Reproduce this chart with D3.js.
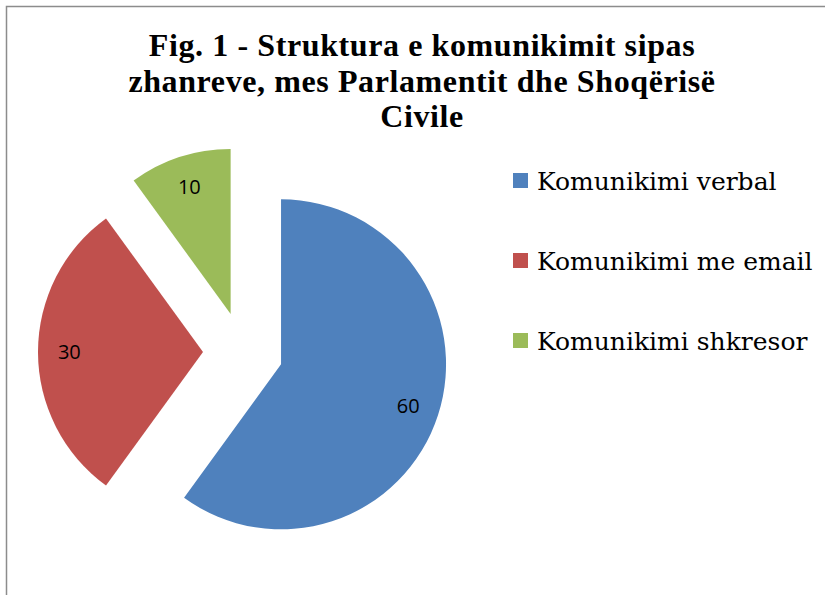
<!DOCTYPE html>
<html>
<head>
<meta charset="utf-8">
<script src="https://cdn.jsdelivr.net/npm/d3@7"></script>
<style>
  body { margin: 0; background: #fff; }
</style>
</head>
<body>
<div id="chart"></div>
<script>
const categories = ["Komunikimi verbal", "Komunikimi me email", "Komunikimi shkresor"];
const values = [60, 30, 10];
const colors = ["#4F81BD", "#C0504D", "#9BBB59"];
const titleLines = ["Fig. 1 - Struktura e komunikimit sipas", "zhanreve, mes Parlamentit dhe Shoqërisë", "Civile"];

const width = 825, height = 595;
const cx = 243, cy = 352, radius = 165, explode = 40;

const svg = d3.select("#chart")
  .append("svg")
  .attr("width", width)
  .attr("height", height);

// chart border
svg.append("rect")
  .attr("x", 6.5).attr("y", 6.5)
  .attr("width", 840).attr("height", 620)
  .attr("fill", "#fff")
  .attr("stroke", "#8c8c8c")
  .attr("stroke-width", 1.5);

// title
svg.append("text")
  .attr("text-anchor", "middle")
  .attr("font-family", "'Liberation Serif', serif")
  .attr("font-weight", "bold")
  .attr("font-size", 32)
  .attr("letter-spacing", 0.6)
  .attr("fill", "#000")
  .selectAll("tspan")
  .data(titleLines)
  .enter()
  .append("tspan")
  .attr("x", 422)
  .attr("y", (d, i) => 56 + i * 35.5)
  .text(d => d);

const pie = d3.pie().sort(null).value(d => d)(values);
const arc = d3.arc().innerRadius(0).outerRadius(radius);

const slices = svg.append("g")
  .attr("transform", `translate(${cx},${cy})`)
  .selectAll("g")
  .data(pie)
  .enter()
  .append("g")
  .attr("transform", d => {
    const mid = (d.startAngle + d.endAngle) / 2;
    return `translate(${Math.sin(mid) * explode},${-Math.cos(mid) * explode})`;
  });

slices.append("path")
  .attr("d", arc)
  .attr("fill", (d, i) => colors[i]);

slices.append("text")
  .attr("transform", d => {
    const mid = (d.startAngle + d.endAngle) / 2;
    const lr = radius * 0.81;
    return `translate(${Math.sin(mid) * lr},${-Math.cos(mid) * lr})`;
  })
  .attr("text-anchor", "middle")
  .attr("dy", "0.36em")
  .attr("font-family", "'Open Sans', sans-serif")
  .attr("font-size", 20)
  .attr("fill", "#000")
  .text(d => d.data);

// legend
const legend = svg.append("g")
  .selectAll("g")
  .data(categories)
  .enter()
  .append("g")
  .attr("transform", (d, i) => `translate(513,${180.5 + i * 80})`);

legend.append("rect")
  .attr("x", 0).attr("y", -7.5)
  .attr("width", 15).attr("height", 15)
  .attr("fill", (d, i) => colors[i]);

legend.append("text")
  .attr("x", 24)
  .attr("y", 9)
  .attr("font-family", "'DejaVu Serif', serif")
  .attr("font-size", 25)
  .attr("fill", "#000")
  .text(d => d);
</script>
</body>
</html>
